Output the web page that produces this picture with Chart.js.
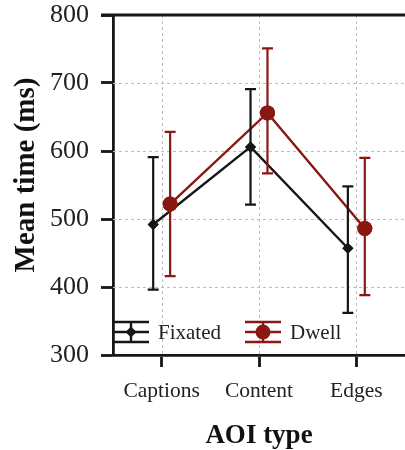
<!DOCTYPE html>
<html>
<head>
<meta charset="utf-8">
<script src="https://cdn.jsdelivr.net/npm/chart.js@4.4.1/dist/chart.umd.min.js"></script>
<style>
    html, body { margin: 0; padding: 0; background: #fff; }
    #wrap { width: 405px; height: 450px; }
</style>
</head>
<body>
<div id="wrap"><canvas id="chart" width="405" height="450"></canvas></div>
<script>
const categories = ['Captions', 'Content', 'Edges'];
const yTicks = [300, 400, 500, 600, 700, 800];

const fixatedMean = [492, 606, 457];
const fixatedLow  = [396, 521, 362];
const fixatedHigh = [591, 691, 548];

const dwellMean = [522, 656, 486];
const dwellLow  = [416, 567, 388];
const dwellHigh = [628, 751, 590];

const BLACK = '#161616';
const RED = '#8a1812';
const SHIFT = 0.087;
const SERIF = '"Liberation Serif", "DejaVu Serif", serif';

const toPoints = (vals, dx) => vals.map((v, i) => ({ x: i + dx, y: v }));

const errorBars = {
    id: 'errorBars',
    afterDatasetsDraw(chart) {
        const { ctx, scales: { y } } = chart;
        chart.data.datasets.forEach((ds, di) => {
            const meta = chart.getDatasetMeta(di);
            ctx.save();
            ctx.strokeStyle = ds.borderColor;
            ctx.lineWidth = 2.2;
            meta.data.forEach((pt, i) => {
                const top = y.getPixelForValue(ds.errHigh[i]);
                const bot = y.getPixelForValue(ds.errLow[i]);
                ctx.beginPath();
                ctx.moveTo(pt.x, top); ctx.lineTo(pt.x, bot);
                ctx.moveTo(pt.x - 5.5, top); ctx.lineTo(pt.x + 5.5, top);
                ctx.moveTo(pt.x - 5.5, bot); ctx.lineTo(pt.x + 5.5, bot);
                ctx.stroke();
            });
            ctx.restore();
            // redraw markers on top of the bars
            meta.data.forEach(pt => pt.draw(ctx, chart.chartArea));
        });
    }
};

const frame = {
    id: 'frame',
    beforeDatasetsDraw(chart) {
        const { ctx, chartArea: a, scales: { x, y } } = chart;
        ctx.save();
        ctx.strokeStyle = '#bdbdbd';
        ctx.lineWidth = 1;
        ctx.setLineDash([3, 3]);
        yTicks.slice(1, -1).forEach(v => {
            const py = Math.round(y.getPixelForValue(v)) + 0.5;
            ctx.beginPath(); ctx.moveTo(a.left, py); ctx.lineTo(a.right, py); ctx.stroke();
        });
        categories.forEach((c, i) => {
            const px = Math.round(x.getPixelForValue(i)) + 0.5;
            ctx.beginPath(); ctx.moveTo(px, a.top); ctx.lineTo(px, a.bottom); ctx.stroke();
        });
        ctx.setLineDash([]);
        ctx.strokeStyle = BLACK;
        ctx.lineWidth = 2.8;
        ctx.beginPath(); ctx.moveTo(a.left - 12, a.top); ctx.lineTo(a.right, a.top); ctx.stroke();
        ctx.restore();
    }
};

// y title sits a little above the axis middle in the original
const yTitle = {
    id: 'yTitle',
    afterDraw(chart) {
        const { ctx } = chart;
        ctx.save();
        ctx.translate(27, 175);
        ctx.rotate(-Math.PI / 2);
        ctx.fillStyle = '#111';
        ctx.font = 'bold 29px ' + SERIF;
        ctx.textAlign = 'center';
        ctx.textBaseline = 'middle';
        ctx.fillText('Mean time (ms)', 0, 0);
        ctx.restore();
    }
};

const legendBox = {
    id: 'legendBox',
    afterDraw(chart) {
        const { ctx, chartArea: a } = chart;
        const cy = a.bottom - 23;
        const items = [
            { label: 'Fixated', color: BLACK, x0: a.left, circle: false },
            { label: 'Dwell', color: RED, x0: a.left + 132, circle: true }
        ];
        ctx.save();
        items.forEach(it => {
            const w = 36, cx = it.x0 + w / 2;
            ctx.strokeStyle = it.color;
            ctx.fillStyle = it.color;
            ctx.lineWidth = 2.4;
            ctx.beginPath();
            [-10, 0, 10].forEach(d => { ctx.moveTo(it.x0, cy + d); ctx.lineTo(it.x0 + w, cy + d); });
            ctx.moveTo(cx, cy - 10); ctx.lineTo(cx, cy + 10);
            ctx.stroke();
            ctx.beginPath();
            if (it.circle) {
                ctx.arc(cx, cy, 7.5, 0, Math.PI * 2);
            } else {
                ctx.moveTo(cx, cy - 5.5); ctx.lineTo(cx + 5.5, cy);
                ctx.lineTo(cx, cy + 5.5); ctx.lineTo(cx - 5.5, cy); ctx.closePath();
            }
            ctx.fill();
            ctx.fillStyle = '#222';
            ctx.font = '21px ' + SERIF;
            ctx.textBaseline = 'middle';
            ctx.fillText(it.label, it.x0 + w + 9, cy + 1);
        });
        ctx.restore();
    }
};

new Chart(document.getElementById('chart'), {
    type: 'line',
    data: {
        datasets: [{
            label: 'Fixated',
            data: toPoints(fixatedMean, -SHIFT),
            errLow: fixatedLow, errHigh: fixatedHigh,
            borderColor: BLACK, backgroundColor: BLACK,
            borderWidth: 2.4, pointStyle: 'rectRot', pointRadius: 5.5,
            pointBorderWidth: 0, pointHoverRadius: 5.5
        }, {
            label: 'Dwell',
            data: toPoints(dwellMean, SHIFT),
            errLow: dwellLow, errHigh: dwellHigh,
            borderColor: RED, backgroundColor: RED,
            borderWidth: 2.4, pointStyle: 'circle', pointRadius: 7.5,
            pointBorderWidth: 0, pointHoverRadius: 7.5
        }]
    },
    options: {
        responsive: false,
        animation: false,
        layout: { autoPadding: false, padding: { top: 15, right: 0, left: 0, bottom: 0 } },
        plugins: { legend: { display: false }, tooltip: { enabled: false } },
        scales: {
            x: {
                type: 'linear', min: -0.5, max: 2.5,
                afterBuildTicks: s => { s.ticks = categories.map((c, i) => ({ value: i })); },
                afterFit: s => { s.height = 95; s.paddingLeft = 0; s.paddingRight = 0; },
                grid: { drawOnChartArea: false, drawTicks: true, tickLength: 12, tickColor: BLACK, tickWidth: 2.8 },
                border: { display: true, color: BLACK, width: 2.8 },
                ticks: {
                    callback: v => categories[v],
                    color: '#222', padding: 11,
                    font: { family: SERIF, size: 21.5 }
                },
                title: {
                    display: true, text: 'AOI type', color: '#111',
                    font: { family: SERIF, size: 27, weight: 'bold' },
                    padding: { top: 4, bottom: -2 }
                }
            },
            y: {
                min: 300, max: 800,
                afterBuildTicks: s => { s.ticks = yTicks.map(v => ({ value: v })); },
                afterFit: s => { s.width = 113; s.paddingTop = 0; s.paddingBottom = 0; },
                grid: { drawOnChartArea: false, drawTicks: true, tickLength: 12, tickColor: BLACK, tickWidth: 2.8 },
                border: { display: true, color: BLACK, width: 2.8 },
                ticks: {
                    color: '#222', padding: 12,
                    font: { family: SERIF, size: 26 }
                },
                title: { display: false }
            }
        }
    },
    plugins: [frame, errorBars, legendBox, yTitle]
});
</script>
</body>
</html>
